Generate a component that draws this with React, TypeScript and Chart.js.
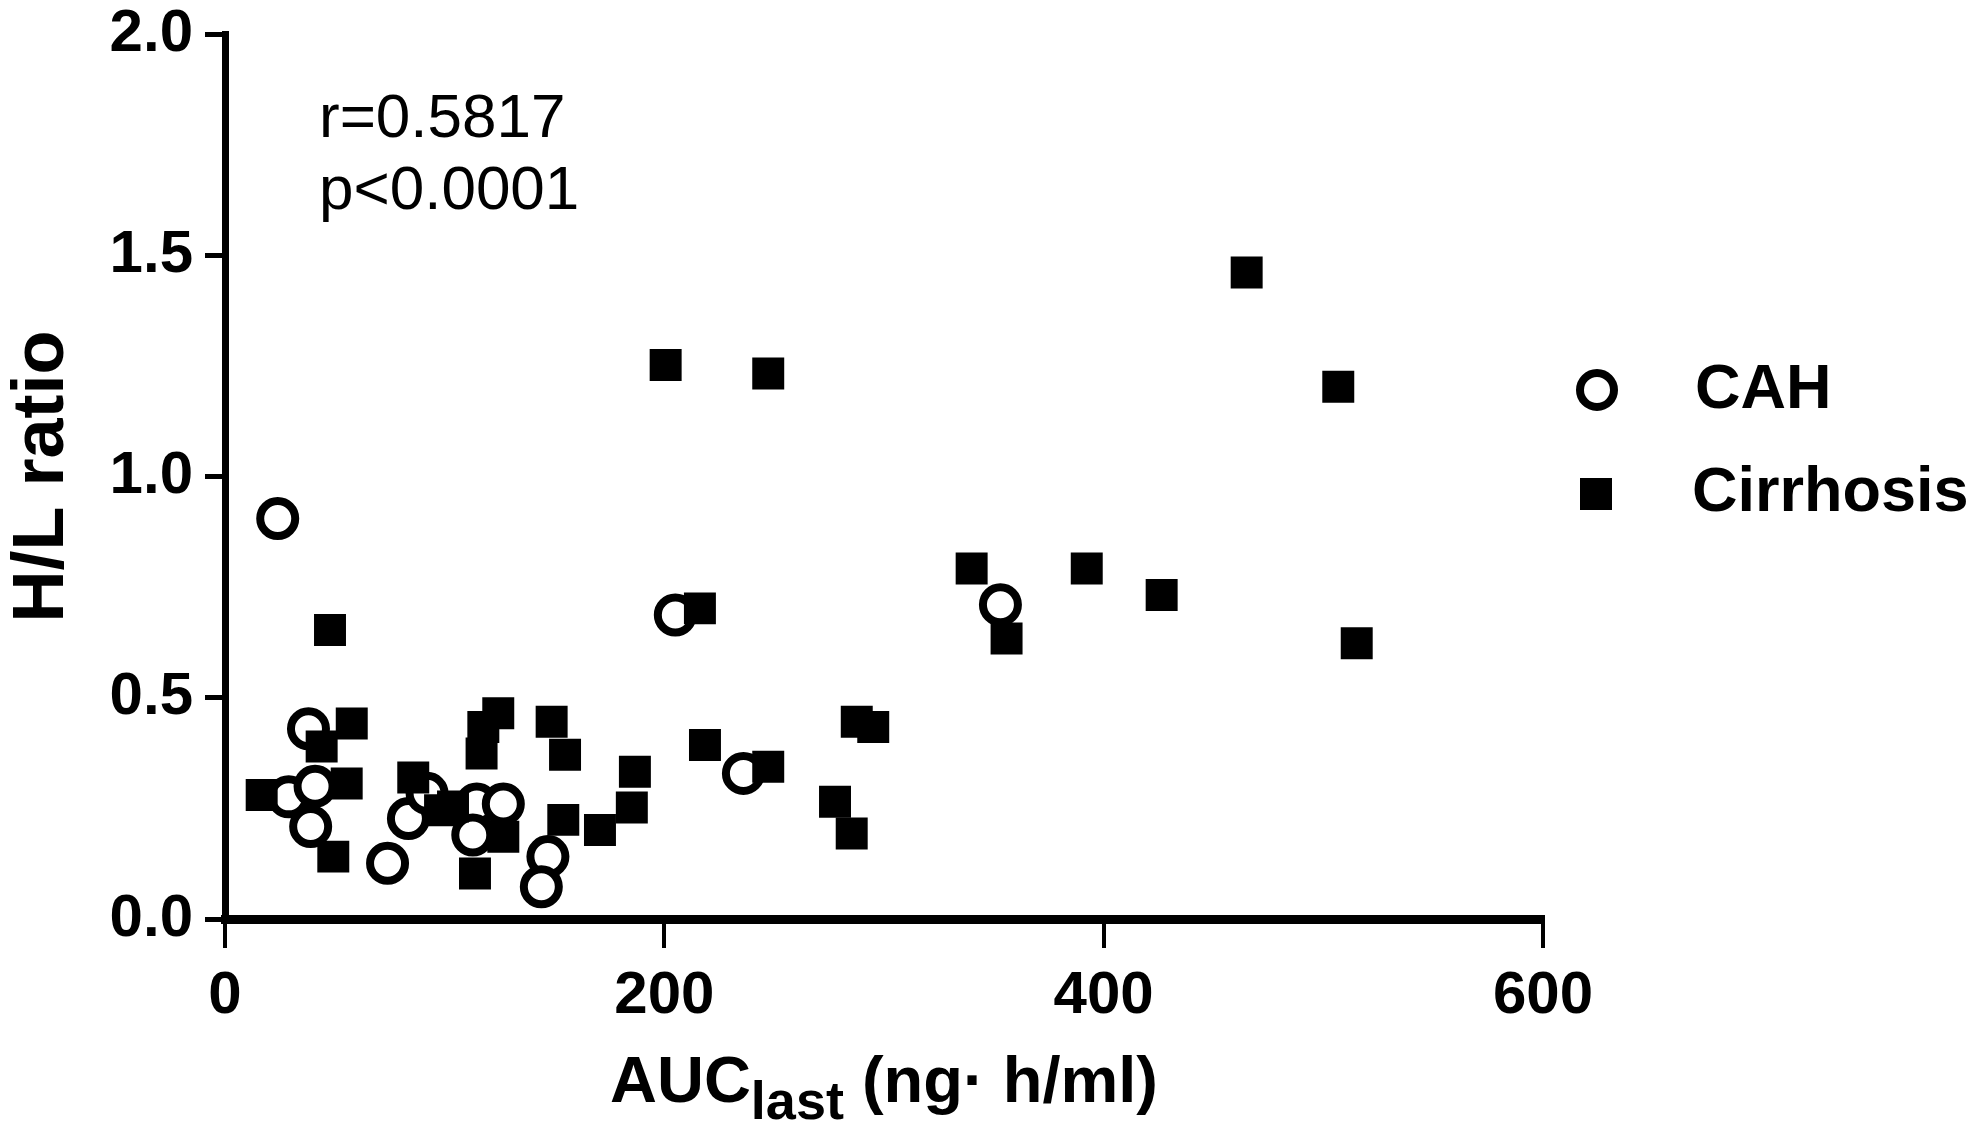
import React, { useEffect, useRef } from "react";
import { Chart, registerables } from "chart.js";

Chart.register(...registerables);

// ---- Data ----
const cahX = [24, 38, 29, 41, 39, 74, 83.5, 92, 114.6, 126.7, 112.8, 147, 144, 205, 236, 353];
const cahY = [0.905, 0.43, 0.276, 0.3, 0.209, 0.126, 0.227, 0.284, 0.26, 0.26, 0.19, 0.141, 0.073, 0.687, 0.329, 0.71];

const cirX = [16.7, 44, 47.8, 49.3, 55.4, 57.7, 85.7, 97.9, 103.8, 113.8, 116.8, 117.6, 124.4, 126.7, 148.7, 154, 154.8, 170.7, 185.2, 186.6, 200.6, 216.2, 218.5, 247.3, 247.3, 277.7, 285.3, 287.6, 295.1, 339.9, 355.8, 392.3, 426.4, 465.1, 506.8, 515.2];
const cirY = [0.28, 0.39, 0.653, 0.141, 0.306, 0.442, 0.32, 0.246, 0.254, 0.103, 0.374, 0.434, 0.465, 0.186, 0.446, 0.224, 0.371, 0.201, 0.252, 0.333, 1.252, 0.702, 0.393, 1.233, 0.344, 0.265, 0.193, 0.446, 0.434, 0.792, 0.634, 0.792, 0.732, 1.461, 1.203, 0.623];

const seriesNames = ["CAH", "Cirrhosis"];
const xTicks = [0, 200, 400, 600];
const yTicks = [0, 0.5, 1.0, 1.5, 2.0];
const yTitle = "H/L ratio";
const xTitleMain = "AUC";
const xTitleSub = "last";
const xTitleRest = " (ng· h/ml)";
const statLines = ["r=0.5817", "p<0.0001"];

const FONT = '"Liberation Sans", Arial, Helvetica, sans-serif';

const overlayPlugin = {
  id: "overlay",
  afterDraw(chart: any) {
    const ctx = chart.ctx as CanvasRenderingContext2D;
    ctx.save();
    ctx.fillStyle = "#000";
    ctx.strokeStyle = "#000";
    ctx.textBaseline = "middle";
    ctx.textAlign = "left";

    // stats annotation
    ctx.font = `62px ${FONT}`;
    ctx.fillText(statLines[0], 319, 120);
    ctx.fillText(statLines[1], 319, 192);

    // x axis title with subscript
    const mainFont = `bold 65px ${FONT}`;
    const subFont = `bold 54px ${FONT}`;
    ctx.font = mainFont;
    const w1 = ctx.measureText(xTitleMain).width;
    const w3 = ctx.measureText(xTitleRest).width;
    ctx.font = subFont;
    const w2 = ctx.measureText(xTitleSub).width;
    const total = w1 + w2 + w3;
    let x = 884 - total / 2;
    const baseY = 1102;
    ctx.textBaseline = "alphabetic";
    ctx.font = mainFont;
    ctx.fillText(xTitleMain, x, baseY);
    x += w1;
    ctx.font = subFont;
    ctx.fillText(xTitleSub, x, baseY + 17);
    x += w2;
    ctx.font = mainFont;
    ctx.fillText(xTitleRest, x, baseY);

    // legend
    ctx.textBaseline = "middle";
    ctx.lineWidth = 8;
    ctx.fillStyle = "#fff";
    ctx.beginPath();
    ctx.arc(1597, 390, 17, 0, Math.PI * 2);
    ctx.fill();
    ctx.stroke();
    ctx.fillStyle = "#000";
    ctx.fillRect(1596 - 16, 494 - 16, 32, 32);
    ctx.font = `bold 63px ${FONT}`;
    ctx.fillText(seriesNames[0], 1695, 391);
    ctx.fillText(seriesNames[1], 1692, 494);
    ctx.restore();
  },
};

export default function App() {
  const ref = useRef<HTMLCanvasElement>(null);
  useEffect(() => {
    document.body.style.margin = "0";
    const cah = cahX.map((v, i) => ({ x: v, y: cahY[i] }));
    const cir = cirX.map((v, i) => ({ x: v, y: cirY[i] }));
    const chart = new Chart(ref.current!, {
      type: "scatter",
      data: {
        datasets: [
          {
            label: seriesNames[1],
            data: cir,
            pointStyle: "rect",
            pointRadius: 22.6,
            pointHoverRadius: 22.6,
            backgroundColor: "#000",
            borderColor: "#000",
            borderWidth: 0,
          },
          {
            label: seriesNames[0],
            data: cah,
            pointStyle: "circle",
            pointRadius: 17.5,
            pointHoverRadius: 17.5,
            backgroundColor: "#fff",
            borderColor: "#000",
            borderWidth: 8,
          },
        ],
      },
      options: {
        animation: false,
        responsive: true,
        maintainAspectRatio: false,
        devicePixelRatio: 1,
        layout: { padding: { left: 0, right: 440, top: 34, bottom: 0 } },
        plugins: { legend: { display: false }, tooltip: { enabled: false } },
        scales: {
          x: {
            type: "linear",
            min: 0,
            max: 600,
            afterFit: (s: any) => {
              s.height = 219;
              s.paddingLeft = 0;
              s.paddingRight = 0;
            },
            afterBuildTicks: (s: any) => {
              s.ticks = xTicks.map((v) => ({ value: v }));
            },
            border: { display: true, color: "#000", width: 9 },
            grid: {
              display: true,
              drawOnChartArea: false,
              drawTicks: true,
              tickLength: 29,
              color: "#000",
              lineWidth: 4,
            },
            ticks: {
              color: "#000",
              padding: 12,
              font: { family: FONT, size: 60, weight: "bold" },
              callback: (v: any) => String(v),
            },
          },
          y: {
            type: "linear",
            min: 0,
            max: 2,
            afterFit: (s: any) => {
              s.width = 225;
              s.paddingTop = 0;
              s.paddingBottom = 0;
            },
            afterBuildTicks: (s: any) => {
              s.ticks = yTicks.map((v) => ({ value: v }));
            },
            border: { display: true, color: "#000", width: 7 },
            grid: {
              display: true,
              drawOnChartArea: false,
              drawTicks: true,
              tickLength: 20,
              color: "#000",
              lineWidth: 5,
            },
            ticks: {
              color: "#000",
              padding: 12,
              font: { family: FONT, size: 60, weight: "bold" },
              callback: (v: any) => Number(v).toFixed(1),
            },
            title: {
              display: true,
              text: yTitle,
              color: "#000",
              padding: 0,
              font: { family: FONT, size: 72, weight: "bold" },
            },
          },
        },
      },
      plugins: [overlayPlugin],
    });
    return () => chart.destroy();
  }, []);
  return (
    <div style={{ position: "absolute", left: 0, top: 0, width: 1983, height: 1138, background: "#fff" }}>
      <canvas ref={ref} />
    </div>
  );
}
